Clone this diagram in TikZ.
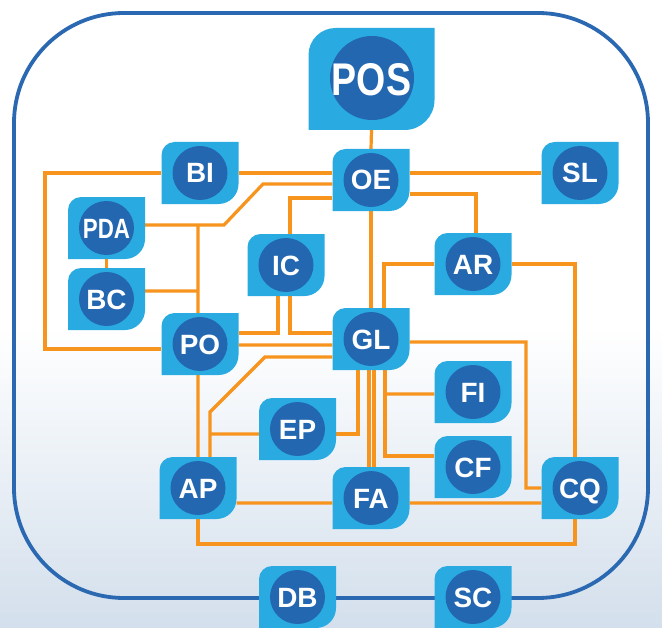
\documentclass[tikz,border=0pt]{standalone}
\usepackage{fontspec}
\usepackage{graphicx}
\setmainfont{Liberation Sans}
\definecolor{leafblue}{HTML}{29ABE2}
\definecolor{ellblue}{HTML}{2467B1}
\definecolor{wirecol}{HTML}{F7941E}
\definecolor{framecol}{HTML}{2B68B2}
\definecolor{bgbot}{HTML}{D3DFEC}
\pgfdeclarelayer{bg}
\pgfdeclarelayer{wires}
\pgfdeclarelayer{shapes}
\pgfsetlayers{bg,wires,shapes,main}
\pgfdeclareverticalshading{bgshade}{100bp}{color(0bp)=(bgbot); color(25bp)=(bgbot); color(49bp)=(white); color(100bp)=(white)}
% leaf shape: cx, cy, half w, half h, r top-left, r bottom-right (image coords, y down)
\newcommand\leafshape[6]{%
  \fill[leafblue] ({#1-#3},{#2+#4}) -- ({#1-#3},{#2-#4+#5})
    .. controls ({#1-#3},{#2-#4+0.448*#5}) and ({#1-#3+0.448*#5},{#2-#4}) .. ({#1-#3+#5},{#2-#4})
    -- ({#1+#3},{#2-#4}) -- ({#1+#3},{#2+#4-#6})
    .. controls ({#1+#3},{#2+#4-0.448*#6}) and ({#1+#3-0.448*#6},{#2+#4}) .. ({#1+#3-#6},{#2+#4})
    -- cycle;}
\newcommand\leafunit[4]{%
  \node[unitbox] (#1) at (#2,#3) {#4};
  \begin{pgfonlayer}{shapes}
    \leafshape{#2}{#3}{38.5}{31}{13}{20}
    \fill[ellblue] (#2,#3) ellipse [x radius=27.5, y radius=27];
  \end{pgfonlayer}}
\tikzset{
  unitbox/.style={minimum width=77bp, minimum height=62bp, inner sep=0pt,
    text=white, text height=20bp, text depth=0pt,
    font=\fontsize{28}{28}\selectfont\bfseries},
  bigbox/.style={minimum width=126bp, minimum height=102bp, inner sep=0pt,
    text=white, text height=33bp, text depth=0pt,
    font=\fontsize{46}{46}\selectfont\bfseries},
  wire/.style={draw=wirecol, line width=3.2bp, line join=miter},
}
\begin{document}
\begin{tikzpicture}[x=1bp, y=-1bp]
\useasboundingbox (0,0) rectangle (662,628);
\begin{pgfonlayer}{bg}
  \shade[shading=bgshade] (0,0) rectangle (662,628);
  \draw[framecol, line width=3.8bp, rounded corners=110bp] (14,13) rectangle (648,598);
\end{pgfonlayer}

% big node
\node[bigbox] (POS) at (371.5,79) {\scalebox{0.82}[1]{POS}};
\begin{pgfonlayer}{shapes}
  \leafshape{371.5}{79}{63}{51}{27}{30}
  \fill[ellblue] (372,78) ellipse [x radius=42, y radius=42];
\end{pgfonlayer}

\leafunit{BI}{200}{173}{BI}
\leafunit{OE}{371}{180}{OE}
\leafunit{SL}{580}{173}{SL}
\leafunit{PDA}{106.5}{228}{\scalebox{0.8}[1]{PDA}}
\leafunit{BC}{106.5}{299}{BC}
\leafunit{IC}{286}{265}{IC}
\leafunit{AR}{473}{264}{AR}
\leafunit{PO}{200}{344}{PO}
\leafunit{GL}{371}{339}{GL}
\leafunit{FI}{473}{392}{FI}
\leafunit{EP}{297.5}{429}{EP}
\leafunit{CF}{473}{467}{CF}
\leafunit{AP}{198}{488}{AP}
\leafunit{FA}{371}{498}{FA}
\leafunit{CQ}{580}{488}{CQ}
\leafunit{DB}{297.5}{597}{DB}
\leafunit{SC}{473}{597}{SC}

\begin{pgfonlayer}{wires}
  \draw[wire] (POS.south) -- (OE.north);
  \draw[wire] (BI.west) -- (45,173) |- ([yshift=-5bp]PO.west);
  \draw[wire] (BI.east) -- (BI.east -| OE.west);
  \draw[wire] (OE.east |- SL.west) -- (SL.west);
  \draw[wire] ([yshift=-4bp]OE.west) -- (263,184) -- (224,225) -- ([yshift=3bp]PDA.east);
  \draw[wire] ([xshift=-2bp]PO.north) -- (198,225);
  \draw[wire] ([yshift=8bp]BC.east) -- (198,291);
  \draw[wire] (PDA.south) -- (BC.north);
  \draw[wire] ([yshift=-18bp]OE.west) -| ([xshift=4bp]IC.north);
  \draw[wire] ([yshift=-14bp]OE.east) -| ([xshift=3bp]AR.north);
  \draw[wire] (OE.south) -- (GL.north);
  \draw[wire] (AR.west) -| ([xshift=13bp]GL.north);
  \draw[wire] (AR.east) -| ([xshift=-5bp]CQ.north);
  \draw[wire] ([xshift=-8bp]IC.south) |- ([yshift=11bp]PO.east);
  \draw[wire] ([xshift=4bp]IC.south) |- ([yshift=6bp]GL.west);
  \draw[wire] ([yshift=-1bp]PO.east) -- ([yshift=-6bp]GL.west);
  \draw[wire] ([yshift=-18bp]GL.west) -- (265,357) -- (210,412) -- ([xshift=12bp]AP.north);
  \draw[wire] ([xshift=-2bp]PO.south) -- (AP.north);
  \draw[wire] ([yshift=-5bp]EP.west) -- (210,434);
  \draw[wire] ([yshift=-5bp]EP.east) -| ([xshift=-13bp]GL.south);
  \draw[wire] ([xshift=-2bp]GL.south) -- ([xshift=-2bp]FA.north);
  \draw[wire] ([xshift=3bp]GL.south) -- ([xshift=3bp]FA.north);
  \draw[wire] ([xshift=14bp]GL.south) |- ([yshift=11bp]CF.west);
  \draw[wire] (385,394) -- ([yshift=-2bp]FI.west);
  \draw[wire] ([yshift=-3bp]GL.east) -- (526,342) |- (CQ.west);
  \draw[wire] ([yshift=-15bp]AP.east) -- ([yshift=-5bp]FA.west);
  \draw[wire] ([yshift=-5bp]FA.east) -- ([yshift=-15bp]CQ.west);
  \draw[wire] (AP.south) -- (198,544) -| ([xshift=-5bp]CQ.south);
\end{pgfonlayer}
\end{tikzpicture}
\end{document}
